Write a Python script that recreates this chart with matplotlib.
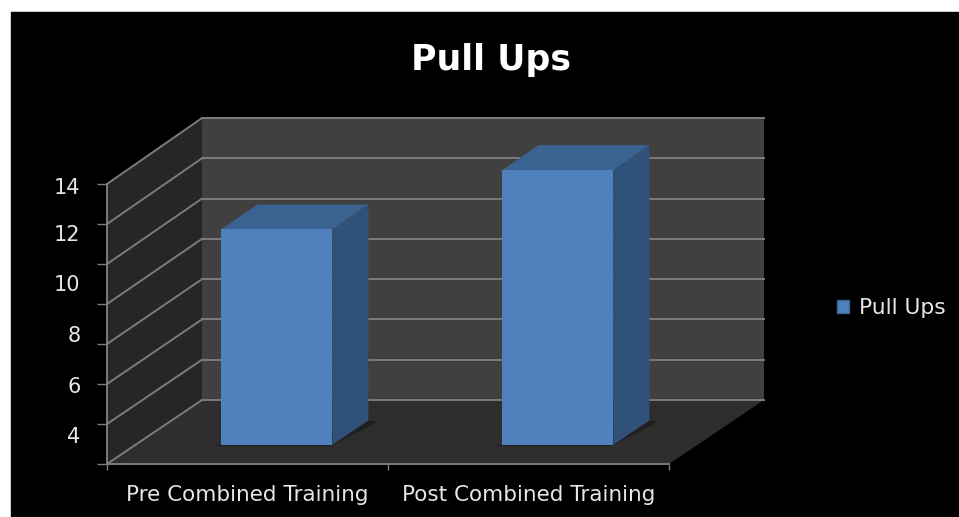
"""
Pull Ups chart: pseudo 3D column chart on a black panel.
"""

import matplotlib
matplotlib.use('Agg')
import matplotlib.pyplot as plt
from matplotlib.patches import Patch, Rectangle

# Data
categories = ['Pre Combined Training', 'Post Combined Training']
pull_ups = [10.75, 13.7]
grid_values = [0, 2, 4, 6, 8, 10, 12, 14]
tick_labels = ['14', '12', '10', '8', '6', '4']
# the labels do not sit on the ticks in the original
label_values = [13.9, 11.55, 9.05, 6.5, 3.95, 1.45]

# Size of the 3D box, in data units
DX = 0.338
DY = 3.2
BACK_SCALE = 0.007
BAR_WIDTH = 0.395
BAR_D0 = 0.30
BAR_D1 = 0.68

W, H = 959, 517


def project(x, v, d=0.0):
    """Data position at depth d (0 front, 1 back wall) to the front plane."""
    return x + d * DX, v * (1 + d * BACK_SCALE) + d * DY


def face(ax, corners, color, zorder=1):
    xs, ys = zip(*[project(*c) for c in corners])
    ax.fill(xs, ys, color=color, lw=0, zorder=zorder, clip_on=False)


def line(ax, p0, p1, zorder=2):
    xs, ys = zip(project(*p0), project(*p1))
    ax.plot(xs, ys, color='#7c7c7c', lw=1.4, zorder=zorder, clip_on=False)


fig = plt.figure(figsize=(W / 100, H / 100), dpi=100, facecolor='white')
fig.patches.append(Rectangle((11 / W, 0), 1, 1 - 12 / H, color='black',
                             transform=fig.transFigure, zorder=-5))

ax = fig.add_axes([107 / W, 1 - 464 / H, 562 / W, 280 / H])
ax.patch.set_visible(False)
ax.set_xlim(0, 2)
ax.set_ylim(0, 14)
for spine in ['top', 'right']:
    ax.spines[spine].set_visible(False)
for spine in ['left', 'bottom']:
    ax.spines[spine].set_color('#7c7c7c')
    ax.spines[spine].set_linewidth(1.4)

# Walls and floor
face(ax, [(0, 0, 1), (2, 0, 1), (2, 14, 1), (0, 14, 1)], '#404040')
face(ax, [(0, 0, 0), (0, 0, 1), (0, 14, 1), (0, 14, 0)], '#262626')
face(ax, [(0, 0, 0), (2, 0, 0), (2, 0, 1), (0, 0, 1)], '#2e2e2e')

# Gridlines
for v in grid_values:
    line(ax, (0, v, 0), (0, v, 1))
    if v > 0:
        line(ax, (0, v, 1), (2, v, 1))
line(ax, (0, 0, 1), (2, 0, 1), zorder=1.5)

# Columns
for i, v in enumerate(pull_ups):
    x0 = i + 0.5 - BAR_WIDTH / 2 + 0.003
    x1 = i + 0.5 + BAR_WIDTH / 2 + 0.003
    # soft shadow on the floor
    face(ax, [(x0 - 0.035, 0, BAR_D0 - 0.02), (x1, 0, BAR_D0 - 0.02),
              (x1 + 0.04, 0, BAR_D1 - 0.02), (x1, 0, BAR_D1)], '#1f1f1f', zorder=3)
    face(ax, [(x0, v, BAR_D0), (x1, v, BAR_D0), (x1, v, BAR_D1), (x0, v, BAR_D1)],
         '#3b6391', zorder=4)
    face(ax, [(x1, 0, BAR_D0), (x1, 0, BAR_D1), (x1, v, BAR_D1), (x1, v, BAR_D0)],
         '#315278', zorder=4)
    face(ax, [(x0, 0, BAR_D0), (x1, 0, BAR_D0), (x1, v, BAR_D0), (x0, v, BAR_D0)],
         '#4f81bd', zorder=5)

# Ticks: major for the marks, minor for the labels
ax.set_yticks(grid_values)
ax.set_yticklabels([])
ax.set_yticks(label_values, tick_labels, minor=True)
ax.set_xticks([0, 1, 2])
ax.set_xticklabels([])
ax.set_xticks([0.5, 1.5], categories, minor=True)
ax.tick_params(axis='y', which='major', color='#7c7c7c', width=1, length=7)
ax.tick_params(axis='x', which='major', color='#7c7c7c', width=1, length=4.5)
ax.tick_params(axis='y', which='minor', length=0, pad=19, labelcolor='#e6e6e6',
               labelsize=15)
ax.tick_params(axis='x', which='minor', length=0, pad=15, labelcolor='#e6e6e6',
               labelsize=15.5)

fig.text(491 / W, 1 - 60 / H, 'Pull Ups', color='white', fontsize=25,
         fontweight='bold', ha='center', va='center')

fig.legend(handles=[Patch(facecolor='#4f81bd', edgecolor='#3b6391', label='Pull Ups')],
           loc='center left', bbox_to_anchor=(837 / W, 1 - 308 / H), frameon=False,
           labelcolor='#e6e6e6', fontsize=15.7, handlelength=0.55, handleheight=0.55,
           handletextpad=0.48, borderpad=0, borderaxespad=0)

plt.savefig('out.png', dpi=100, facecolor=fig.get_facecolor())
plt.close()
